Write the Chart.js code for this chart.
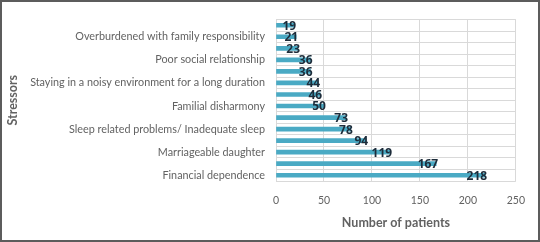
<!DOCTYPE html>
<html>
<head>
<meta charset="utf-8">
<script src="https://cdn.jsdelivr.net/npm/chart.js@4/dist/chart.umd.min.js"></script>
<style>
  html, body { margin: 0; padding: 0; background: #fff; }
  #wrap { width: 540px; height: 242px; box-sizing: border-box; border: 2px solid #5c5c5c; }
  canvas { display: block; }
</style>
</head>
<body>
<div id="wrap"><canvas id="stressChart" width="536" height="238"></canvas></div>
<script>
// categories listed top to bottom; only every other label is legible in the source
var stressors = [
  "", "Overburdened with family responsibility",
  "", "Poor social relationship",
  "", "Staying in a noisy environment for a long duration",
  "", "Familial disharmony",
  "", "Sleep related problems/ Inadequate sleep",
  "", "Marriageable daughter",
  "", "Financial dependence"
];
var patients = [19, 21, 23, 36, 36, 44, 46, 50, 73, 78, 94, 119, 167, 218];
var xTicks = [0, 50, 100, 150, 200, 250];

var labelFont = "Lato";
var greyText = "#626262";

var valueLabels = {
  id: "valueLabels",
  afterDatasetsDraw: function(chart) {
    var ctx = chart.ctx;
    var meta = chart.getDatasetMeta(0);
    ctx.save();
    ctx.font = "bold 12px 'Open Sans'";
    ctx.fillStyle = "#1d2c3a";
    ctx.textAlign = "right";
    ctx.textBaseline = "middle";
    meta.data.forEach(function(bar, i) {
      ctx.fillText(patients[i], bar.x + 2, bar.y + 1);
    });
    ctx.restore();
  }
};

new Chart(document.getElementById("stressChart"), {
  type: "bar",
  data: {
    labels: stressors,
    datasets: [{
      data: patients,
      backgroundColor: "#4aaac4",
      barThickness: 4
    }]
  },
  options: {
    indexAxis: "y",
    responsive: false,
    animation: false,
    layout: { padding: { top: 3, right: 21, left: 0, bottom: 0 } },
    plugins: { legend: { display: false }, tooltip: { enabled: false } },
    scales: {
      x: {
        min: 0,
        max: 250,
        afterBuildTicks: function(scale) {
          scale.ticks = xTicks.map(function(v) { return { value: v }; });
        },
        afterFit: function(scale) { scale.height = 59; },
        grid: { color: "#d9d9d9", drawTicks: false },
        border: { display: false },
        ticks: { color: greyText, font: { family: labelFont, size: 10.5 }, padding: 13 },
        title: {
          display: true,
          text: "Number of patients",
          color: greyText,
          font: { family: labelFont, size: 12.5, weight: "bold" },
          padding: { top: 0, bottom: 10 }
        }
      },
      y: {
        afterFit: function(scale) { scale.width = 274; },
        grid: { color: "#d9d9d9", drawTicks: false },
        border: { display: false },
        ticks: {
          autoSkip: false,
          color: greyText,
          font: { family: labelFont, size: 10.8 },
          padding: 11,
          callback: function(v, i) { return stressors[i]; }
        },
        title: {
          display: true,
          text: "Stressors",
          color: greyText,
          font: { family: labelFont, size: 12.5, weight: "bold" },
          padding: { top: 3, bottom: 0 }
        }
      }
    }
  },
  plugins: [valueLabels]
});
</script>
</body>
</html>
